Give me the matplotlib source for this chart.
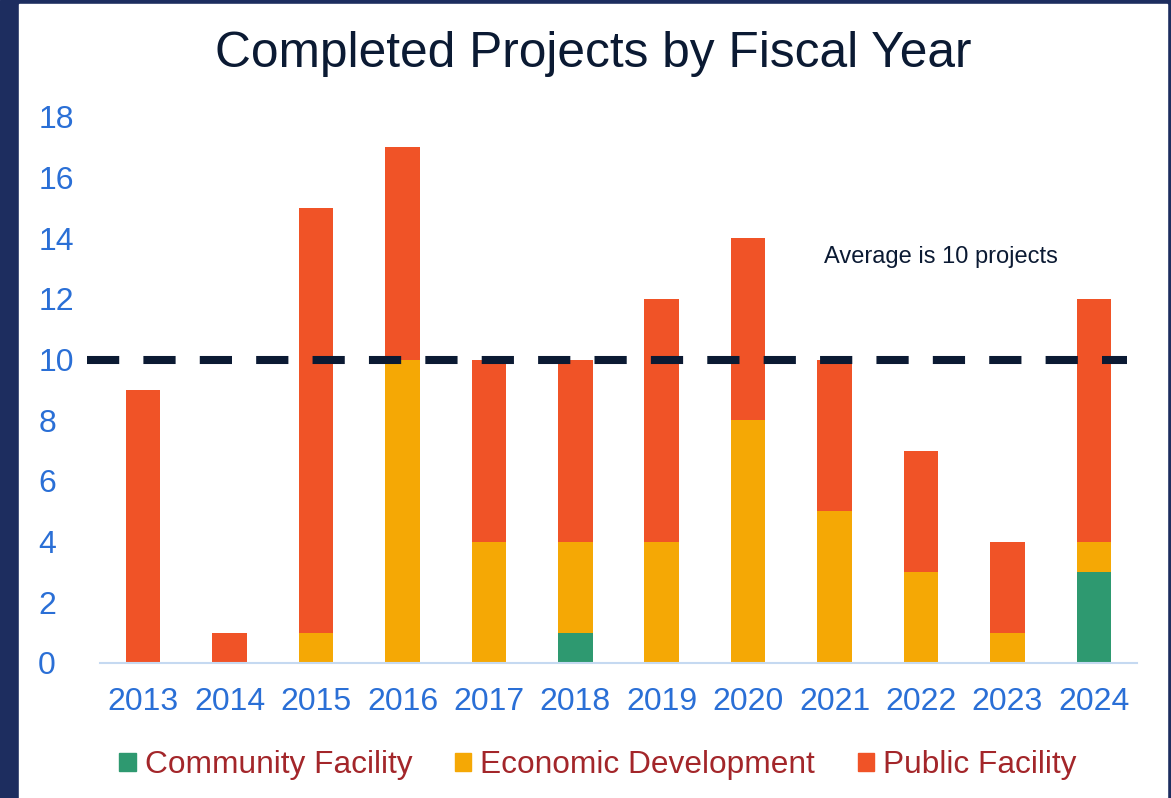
import matplotlib
matplotlib.use("Agg")
import matplotlib.pyplot as plt
from matplotlib.patches import Rectangle, Patch
import numpy as np

years = ["2013", "2014", "2015", "2016", "2017", "2018", "2019", "2020", "2021", "2022", "2023", "2024"]
community = [0, 0, 0, 0, 0, 1, 0, 0, 0, 0, 0, 3]
economic = [0, 0, 1, 10, 4, 3, 4, 8, 5, 3, 1, 1]
public = [9, 1, 14, 7, 6, 6, 8, 6, 5, 4, 3, 8]
average = 10
series_names = ["Community Facility", "Economic Development", "Public Facility"]
colors = ["#2e9970", "#f5a805", "#f05327"]

plt.rcParams['font.family'] = ['Liberation Sans', 'DejaVu Sans']

W, H = 1171, 798
fig = plt.figure(figsize=(W/100, H/100), dpi=100)
# navy border
fig.patches.append(Rectangle((0, 0), 1, 1, transform=fig.transFigure, color="#1d2d5f", zorder=-10))
fig.patches.append(Rectangle((19/W, 0), (1167-19)/W, 1 - 4/H, transform=fig.transFigure,
                             color="white", zorder=-9))

ax = fig.add_axes([100/W, 1 - 663/H, (1137-100)/W, (663-117)/H])
x = np.arange(len(years))
w = 0.4
bottom = np.zeros(len(years))
for vals, c in zip([community, economic, public], colors):
    ax.bar(x, vals, w, bottom=bottom, color=c, zorder=2)
    bottom += np.array(vals)

ax.plot([-0.65, 11.38], [average, average], color="#0b1a33", lw=5.8, dashes=(4, 3),
        solid_capstyle="butt", dash_capstyle="butt", zorder=3, clip_on=False)
ax.text((941-100)/1037*12 - 0.5, 13.4, "Average is 10 projects", ha="center", va="center",
        fontsize=17, color="#0b1a33")

ax.set_xlim(-0.5, 11.5)
ax.set_ylim(0, 18)
ax.set_yticks(range(0, 19, 2))
ax.set_xticks(x)
ax.set_xticklabels(years)
ax.tick_params(axis='both', length=0, labelsize=23, labelcolor="#2a6fd6")
ax.tick_params(axis='x', pad=17)
ax.tick_params(axis='y', pad=44.5)
for lbl in ax.get_yticklabels():
    lbl.set_horizontalalignment('left')
for s in ["top", "right", "left"]:
    ax.spines[s].set_visible(False)
ax.spines["bottom"].set_color("#c5d9f1")
ax.spines["bottom"].set_linewidth(1.5)
ax.set_facecolor("none")

fig.text(0.507, 1 - 54/H, "Completed Projects by Fiscal Year", ha="center", va="center",
         fontsize=35.7, color="#0b1a33")

handles = [Patch(color=c) for c in colors]
leg = fig.legend(handles, series_names, loc="center", bbox_to_anchor=(598/W, 1 - 765/H),
                 ncol=3, frameon=False, fontsize=22.8, handlelength=0.52, handleheight=0.52,
                 handletextpad=0.28, columnspacing=1.35)
for t in leg.get_texts():
    t.set_color("#a3262a")

fig.savefig("out.png", dpi=100)
